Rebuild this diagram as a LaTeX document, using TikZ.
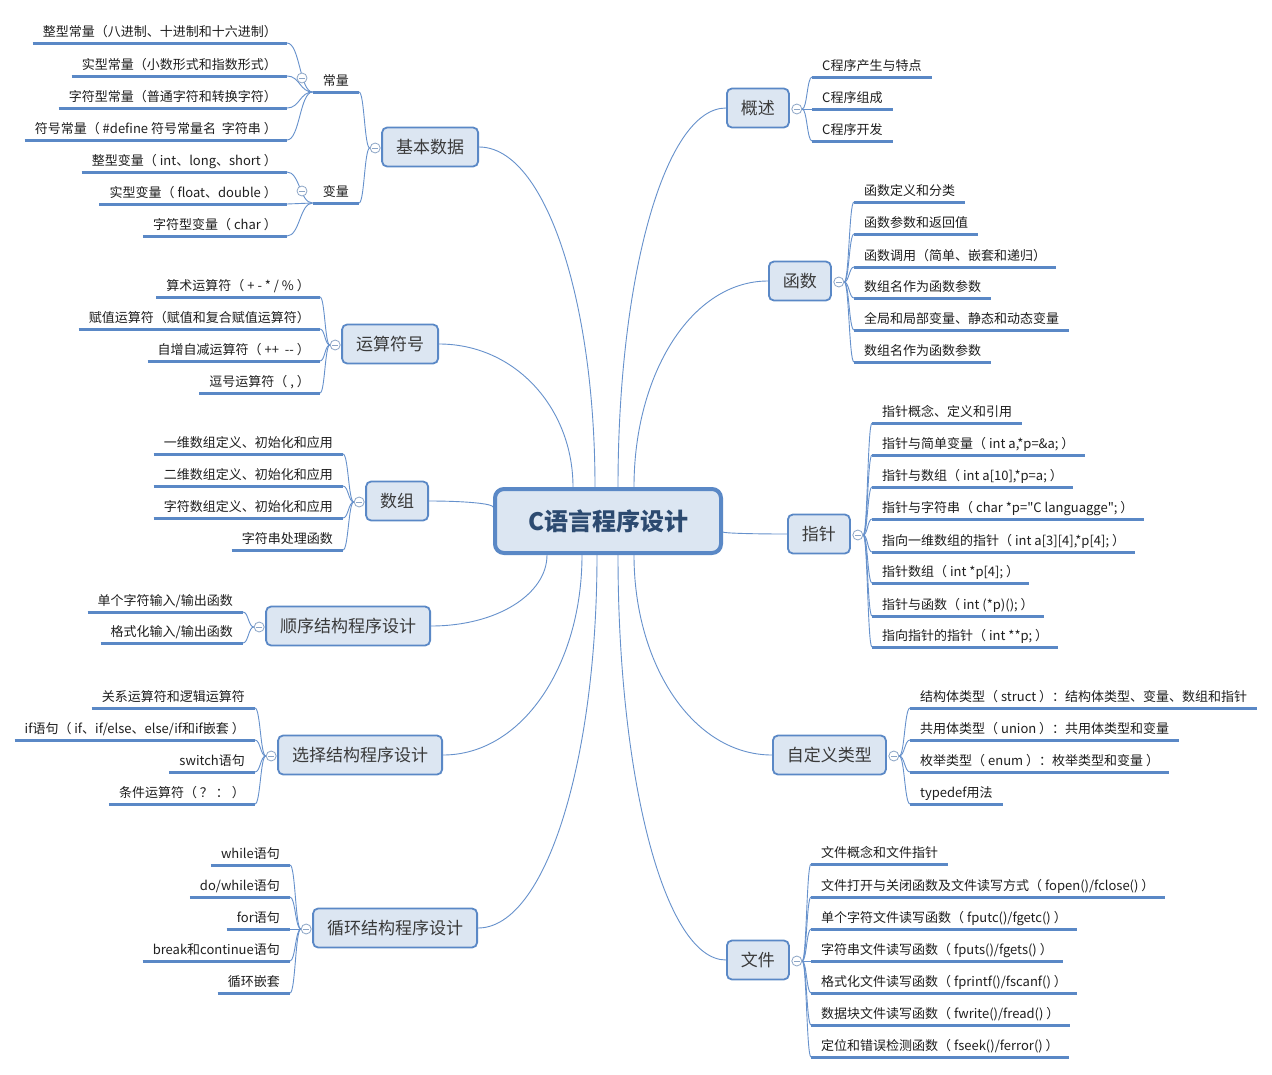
\documentclass[tikz,border=0pt]{standalone}
\usepackage{fontspec}
\newfontfamily\cjk{Noto Sans CJK SC}
\usetikzlibrary{calc,backgrounds}
\definecolor{lineblue}{HTML}{6691CC}
\definecolor{ulblue}{HTML}{5A88C6}
\definecolor{boxfill}{HTML}{DCE6F2}
\definecolor{boxdraw}{HTML}{5A88C6}
\definecolor{circgray}{HTML}{8CA5C6}
\definecolor{roottext}{HTML}{2C4A70}
\definecolor{branchtext}{HTML}{3A3A3A}
\definecolor{leaftext}{HTML}{1E1E1E}
\tikzset{
 leaf/.style={font=\cjk\fontsize{13}{13}\selectfont, text=leaftext, inner xsep=10pt, inner ysep=0pt, text height=11pt, text depth=1.5pt},
 uline/.style={draw=ulblue, line width=3pt},
 conn/.style={draw=lineblue, line width=0.9pt},
 branch/.style={draw=boxdraw, fill=boxfill, line width=1.8pt, rounded corners=5pt, minimum height=39pt, inner xsep=14pt, font=\cjk\fontsize{17}{17}\selectfont, text=branchtext},
 rootbox/.style={draw=boxdraw, fill=boxfill, line width=4pt, rounded corners=9pt, minimum width=226pt, minimum height=64pt, font=\cjk\bfseries\fontsize{24}{24}\selectfont, text=roottext},
 minus/.style={circle, draw=circgray, fill=white, line width=0.8pt, minimum size=10pt, inner sep=0pt,
   path picture={\draw[circgray, line width=0.8pt] ([xshift=2.2pt]path picture bounding box.west) -- ([xshift=-2.2pt]path picture bounding box.east);}},
 brace/.style={to path={.. controls ($(\tikztostart)!0.5!(\tikztostart -| \tikztotarget)$) and ($(\tikztotarget)!0.5!(\tikztostart |- \tikztotarget)$) .. (\tikztotarget)}},
 trunk/.style={to path={.. controls ($(\tikztostart)!0.55!(\tikztostart |- \tikztotarget)$) and ($(\tikztotarget)!0.57!(\tikztostart |- \tikztotarget)$) .. (\tikztotarget)}},
}
\newcommand\leafL[4]{%
  \node[leaf,anchor=east] (#1) at (#2,#3-11) {#4};
  \coordinate (#1e) at (#2,#3);
  \coordinate (#1f) at (#1.west |- #1e);
  \draw[uline] (#1f) -- (#1e);}
\newcommand\leafR[4]{%
  \node[leaf,anchor=west] (#1) at (#2,#3-11) {#4};
  \coordinate (#1e) at (#2,#3);
  \coordinate (#1f) at (#1.east |- #1e);
  \draw[uline] (#1e) -- (#1f);}
\begin{document}
\begin{tikzpicture}[x=1pt,y=-1pt]
\useasboundingbox (0,0) rectangle (1272,1074);

% root
\node[rootbox] (root) at (608,521) {C语言程序设计};

% branch boxes
\node[branch, anchor=east] (jb) at (479,147) {基本数据};
\node[branch, anchor=east] (ys) at (439,344) {运算符号};
\node[branch, anchor=east] (sz) at (429,501) {数组};
\node[branch, anchor=east] (sx) at (431,626) {顺序结构程序设计};
\node[branch, anchor=east] (xz) at (443,755) {选择结构程序设计};
\node[branch, anchor=east] (xh) at (478,928) {循环结构程序设计};
\node[branch, anchor=west] (gs) at (726,108) {概述};
\node[branch, anchor=west] (hs) at (768,281) {函数};
\node[branch, anchor=west] (zz) at (787,534) {指针};
\node[branch, anchor=west] (zd) at (772,755) {自定义类型};
\node[branch, anchor=west] (wj) at (726,960) {文件};

% leaves: 基本数据
\leafL{cl}{359}{92}{常量}
\leafL{bl}{359}{203}{变量}
\leafL{c1}{287}{43}{整型常量（八进制、十进制和十六进制）}
\leafL{c2}{287}{76}{实型常量（小数形式和指数形式）}
\leafL{c3}{287}{108}{字符型常量（普通字符和转换字符）}
\leafL{c4}{287}{140}{符号常量（ \#define 符号常量名 \ 字符串 ）}
\leafL{v1}{287}{172}{整型变量（ int、long、short ）}
\leafL{v2}{287}{204}{实型变量（ float、double ）}
\leafL{v3}{287}{236}{字符型变量（ char ）}
% 运算符号
\leafL{y1}{320}{297}{算术运算符（ + - * / \% ）}
\leafL{y2}{320}{329}{赋值运算符（赋值和复合赋值运算符）}
\leafL{y3}{320}{361}{自增自减运算符（ ++ \ -{}- ）}
\leafL{y4}{320}{393}{逗号运算符（ , ）}
% 数组
\leafL{s1}{343}{454}{一维数组定义、初始化和应用}
\leafL{s2}{343}{486}{二维数组定义、初始化和应用}
\leafL{s3}{343}{518}{字符数组定义、初始化和应用}
\leafL{s4}{343}{550}{字符串处理函数}
% 顺序
\leafL{q1}{243}{612}{单个字符输入/输出函数}
\leafL{q2}{243}{643}{格式化输入/输出函数}
% 选择
\leafL{x1}{255}{708}{关系运算符和逻辑运算符}
\leafL{x2}{255}{740}{if语句（ if、if/else、else/if和if嵌套 ）}
\leafL{x3}{255}{772}{switch语句}
\leafL{x4}{255}{804}{条件运算符（ ？ ： ）}
% 循环
\leafL{h1}{290}{865}{while语句}
\leafL{h2}{290}{897}{do/while语句}
\leafL{h3}{290}{929}{for语句}
\leafL{h4}{290}{961}{break和continue语句}
\leafL{h5}{290}{993}{循环嵌套}
% 概述
\leafR{g1}{812}{77}{C程序产生与特点}
\leafR{g2}{812}{109}{C程序组成}
\leafR{g3}{812}{141}{C程序开发}
% 函数
\leafR{f1}{854}{202}{函数定义和分类}
\leafR{f2}{854}{234}{函数参数和返回值}
\leafR{f3}{854}{267}{函数调用（简单、嵌套和递归）}
\leafR{f4}{854}{298}{数组名作为函数参数}
\leafR{f5}{854}{330}{全局和局部变量、静态和动态变量}
\leafR{f6}{854}{362}{数组名作为函数参数}
% 指针
\leafR{p1}{872}{423}{指针概念、定义和引用}
\leafR{p2}{872}{455}{指针与简单变量（ int a,*p=\&a; ）}
\leafR{p3}{872}{487}{指针与数组（ int a[10],*p=a; ）}
\leafR{p4}{872}{519}{指针与字符串（ char *p="C languagge"; ）}
\leafR{p5}{872}{552}{指向一维数组的指针（ int a[3][4],*p[4]; ）}
\leafR{p6}{872}{583}{指针数组（ int *p[4]; ）}
\leafR{p7}{872}{616}{指针与函数（ int (*p)(); ）}
\leafR{p8}{872}{647}{指向指针的指针（ int **p; ）}
% 自定义类型
\leafR{z1}{910}{708}{结构体类型（ struct ）：结构体类型、变量、数组和指针}
\leafR{z2}{910}{740}{共用体类型（ union ）：共用体类型和变量}
\leafR{z3}{910}{772}{枚举类型（ enum ）：枚举类型和变量 ）}
\leafR{z4}{910}{804}{typedef用法}
% 文件
\leafR{w1}{811}{864}{文件概念和文件指针}
\leafR{w2}{811}{897}{文件打开与关闭函数及文件读写方式（ fopen()/fclose() ）}
\leafR{w3}{811}{929}{单个字符文件读写函数（ fputc()/fgetc() ）}
\leafR{w4}{811}{961}{字符串文件读写函数（ fputs()/fgets() ）}
\leafR{w5}{811}{993}{格式化文件读写函数（ fprintf()/fscanf() ）}
\leafR{w6}{811}{1025}{数据块文件读写函数（ fwrite()/fread() ）}
\leafR{w7}{811}{1057}{定位和错误检测函数（ fseek()/ferror() ）}

% collapse circles
\node[minus] (cjb) at ([xshift=-6pt,yshift=-1pt]jb.west) {};
\node[minus] (cys) at ([xshift=-6pt,yshift=-1pt]ys.west) {};
\node[minus] (csz) at ([xshift=-6pt,yshift=-1pt]sz.west) {};
\node[minus] (csx) at ([xshift=-6pt,yshift=-1pt]sx.west) {};
\node[minus] (cxz) at ([xshift=-6pt,yshift=-1pt]xz.west) {};
\node[minus] (cxh) at ([xshift=-6pt,yshift=-1pt]xh.west) {};
\node[minus] (cgs) at ([xshift=7pt,yshift=-1pt]gs.east) {};
\node[minus] (chs) at ([xshift=7pt,yshift=-1pt]hs.east) {};
\node[minus] (czz) at ([xshift=7pt,yshift=-1pt]zz.east) {};
\node[minus] (czd) at ([xshift=7pt,yshift=-1pt]zd.east) {};
\node[minus] (cwj) at ([xshift=7pt,yshift=-1pt]wj.east) {};
\node[minus] (ccl) at (302,78) {};
\node[minus] (cbl) at (302,191) {};

% root attachment points
\coordinate (t1) at ([xshift=-35pt]root.north);
\coordinate (t2) at ([xshift=-13pt]root.north);
\coordinate (t3) at ([xshift=10pt]root.north);
\coordinate (t4) at ([xshift=26pt]root.north);
\coordinate (b1) at ([xshift=-61pt]root.south);
\coordinate (b2) at ([xshift=-26pt]root.south);
\coordinate (b3) at ([xshift=-11pt]root.south);
\coordinate (b4) at ([xshift=10pt]root.south);
\coordinate (b5) at ([xshift=26pt]root.south);
\coordinate (l1) at ([yshift=14pt]root.west);
\coordinate (r1) at ([yshift=-11pt]root.east);

\begin{pgfonlayer}{background}
\fill[white] (0,0) rectangle (1272,1074);
% trunk connectors
\draw[conn] (t1) to[trunk] (ys.east);
\draw[conn] (t2) to[trunk] (jb.east);
\draw[conn] (t3) to[trunk] (gs.west);
\draw[conn] (t4) to[trunk] (hs.west);
\draw[conn] (b1) to[trunk] (sx.east);
\draw[conn] (b2) to[trunk] (xz.east);
\draw[conn] (b3) to[trunk] (xh.east);
\draw[conn] (b4) to[trunk] (wj.west);
\draw[conn] (b5) to[trunk] (zd.west);
\draw[conn] (l1) to[trunk] (sz.east);
\draw[conn] (r1) to[trunk] (zz.west);
% leaf connectors
\draw[conn] (cjb.west) to[brace] (cle);
\draw[conn] (cjb.west) to[brace] (ble);
\foreach \n in {c1,c2,c3,c4} \draw[conn] (clf) to[brace] (\n e);
\foreach \n in {v1,v2,v3} \draw[conn] (blf) to[brace] (\n e);
\foreach \n in {y1,y2,y3,y4} \draw[conn] (cys.west) to[brace] (\n e);
\foreach \n in {s1,s2,s3,s4} \draw[conn] (csz.west) to[brace] (\n e);
\foreach \n in {q1,q2} \draw[conn] (csx.west) to[brace] (\n e);
\foreach \n in {x1,x2,x3,x4} \draw[conn] (cxz.west) to[brace] (\n e);
\foreach \n in {h1,h2,h3,h4,h5} \draw[conn] (cxh.west) to[brace] (\n e);
\foreach \n in {g1,g2,g3} \draw[conn] (cgs.east) to[brace] (\n e);
\foreach \n in {f1,f2,f3,f4,f5,f6} \draw[conn] (chs.east) to[brace] (\n e);
\foreach \n in {p1,p2,p3,p4,p5,p6,p7,p8} \draw[conn] (czz.east) to[brace] (\n e);
\foreach \n in {z1,z2,z3,z4} \draw[conn] (czd.east) to[brace] (\n e);
\foreach \n in {w1,w2,w3,w4,w5,w6,w7} \draw[conn] (cwj.east) to[brace] (\n e);
\end{pgfonlayer}
\end{tikzpicture}
\end{document}
